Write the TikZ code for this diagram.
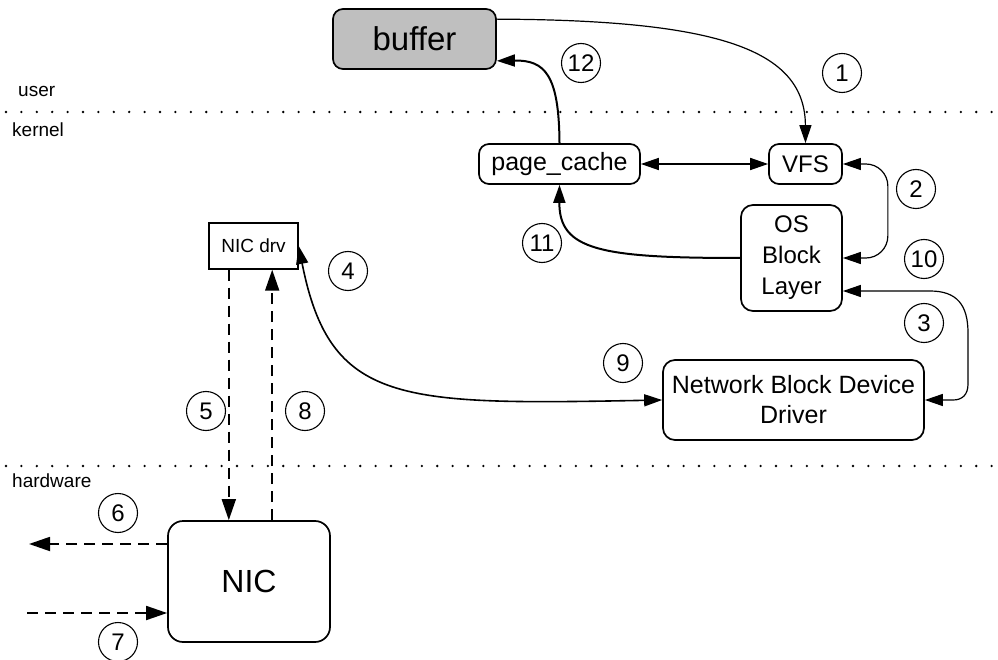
\documentclass[tikz,border=0pt]{standalone}
\usepackage{fontspec}
\setmainfont{Liberation Sans}
\usetikzlibrary{arrows.meta,calc}
\begin{document}
\begin{tikzpicture}[x=1pt,y=-1pt,
  box/.style={draw, line width=1.7pt, rounded corners=10pt, inner sep=0pt, fill=white, align=center},
  num/.style={circle, draw, line width=1.1pt, minimum size=39pt, inner sep=0pt, font={\fontsize{24}{24}\selectfont}},
  layer/.style={anchor=base west, inner sep=0pt, font={\fontsize{19}{19}\selectfont}},
  divider/.style={line width=2.6pt, line cap=round, dash pattern=on 0pt off 15.4pt},
  thinln/.style={line width=1.2pt},
  medln/.style={line width=1.6pt},
  thickln/.style={line width=2pt},
  tip/.style={-{Triangle[length=18pt,width=12pt]}},
  tips/.style={{Triangle[length=18pt,width=12pt]}-{Triangle[length=18pt,width=12pt]}},
  dtip/.style={dash pattern=on 11pt off 7pt, line width=1.8pt, -{Triangle[length=21pt,width=14pt]}}
]
\useasboundingbox (0,0) rectangle (998,660);

% layer separators and their labels
\draw[divider] (6,112) -- (998,112);
\draw[divider] (6,466) -- (998,466);
\node[layer] (luser) at (18,97) {user};
\node[layer] (lkernel) at (12,137) {kernel};
\node[layer] (lhw) at (12,487) {hardware};

% boxes
\node[box, fill={rgb,255:red,191;green,191;blue,191}, minimum width=163pt, minimum height=60pt,
      font={\fontsize{33}{33}\selectfont}] (buffer) at (414.5,39) {buffer};
\node[box, minimum width=161pt, minimum height=40pt, font={\fontsize{25}{25}\selectfont}] (pc) at (559.5,164) {page\_cache};
\node[box, minimum width=73pt, minimum height=40pt, font={\fontsize{24}{24}\selectfont}] (vfs) at (805.5,164) {VFS};
\node[box, rounded corners=12pt, minimum width=101pt, minimum height=106pt, font={\fontsize{24}{31}\selectfont}] (osb) at (791.5,258) {OS\\Block\\Layer};
\node[box, rounded corners=12pt, minimum width=261pt, minimum height=80pt, font={\fontsize{25}{30}\selectfont}] (nbd) at (793.5,400) {Network Block Device\\Driver};
\node[box, rounded corners=0pt, line width=1.4pt, minimum width=89pt, minimum height=46pt, font={\fontsize{19}{19}\selectfont}] (nicdrv) at (253.5,246) {NIC drv};
\node[box, rounded corners=15pt, minimum width=162pt, minimum height=121pt, font={\fontsize{32}{32}\selectfont}] (nic) at (249,581.5) {NIC};

% step numbers
\node[num] (n1) at (842,73) {1};
\node[num] (n2) at (916,189) {2};
\node[num] (n3) at (924,323) {3};
\node[num] (n4) at (348,271) {4};
\node[num] (n5) at (206,411) {5};
\node[num] (n6) at (118,513) {6};
\node[num] (n7) at (118,642) {7};
\node[num] (n8) at (305,411) {8};
\node[num] (n9) at (623,363) {9};
\node[num] (n10) at (924,259) {10};
\node[num] (n11) at (542,243) {11};
\node[num] (n12) at (581,63) {12};

% user <-> kernel
\draw[thinln, tip] ($(buffer.north east)+(0,11)$) .. controls (720,20) and (805,50) .. (vfs.north);
\draw[thickln, tip] (pc.north) .. controls (559,75) and (545,60) .. ($(buffer.south east)+(0,-9)$);
\draw[medln, tips] (pc.east) -- (vfs.west);

% kernel block path
\draw[thinln, tips, rounded corners=22pt] (vfs.east) -| ($(osb.east)+(45,0)$) -- (osb.east);
\draw[thinln, tips] ($(osb.east)+(0,33)$) -- (930,291) .. controls (957,291) and (968,305) .. (968,333)
      -- (968,384) .. controls (968,395) and (962,400) .. (953,400) -- (nbd.east);
\draw[thickln, tip] (osb.west) .. controls (600,258) and (559,250) .. (pc.south);
\draw[medln, tips] (nicdrv.east) .. controls (330,405) and (400,405) .. (nbd.west);

% driver <-> hardware
\coordinate (a5) at ($(nicdrv.south west)+(20.5,0)$);
\coordinate (a8) at ($(nicdrv.south east)+(-26.5,0)$);
\draw[dtip] (a5) -- (a5 |- nic.north);
\draw[dtip] (a8 |- nic.north) -- (a8);

% wire
\coordinate (out6) at (29,544);
\coordinate (in7) at (27,613);
\draw[dtip] (nic.west |- out6) -- (out6);
\draw[dtip] (in7) -- (nic.west |- in7);
\end{tikzpicture}
\end{document}
